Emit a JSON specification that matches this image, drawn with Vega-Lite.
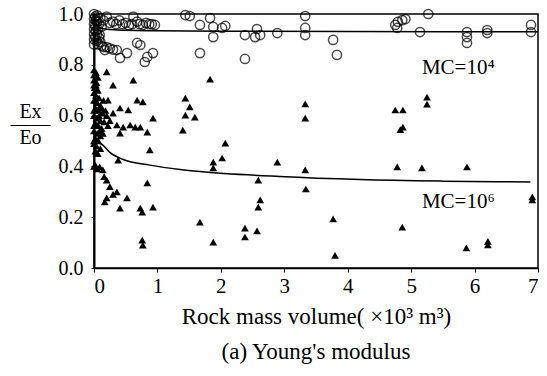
{
  "$schema": "https://vega.github.io/schema/vega-lite/v6.json",
  "width": 444,
  "height": 254,
  "autosize": {"type": "none"},
  "padding": {"left": 94, "top": 14, "right": 9, "bottom": 108},
  "background": "white",
  "config": {
    "view": {"stroke": "black", "strokeWidth": 1.5},
    "font": "Liberation Serif",
    "axis": {"grid": false, "domainColor": "black", "tickColor": "black", "labelColor": "black", "titleColor": "black", "titleFontWeight": "normal"}
  },
  "title": {"text": "(a) Young's modulus", "orient": "bottom", "offset": 13, "fontSize": 23, "font": "Liberation Serif", "fontWeight": "normal", "color": "black"},
  "datasets": {
    "circles": [
      {"x":0.0,"y":1.0},{"x":0.02,"y":0.99},{"x":0.05,"y":0.995},{"x":0.0,"y":0.98},{"x":0.03,"y":0.975},{"x":0.0,"y":0.96},{"x":0.02,"y":0.955},{"x":0.05,"y":0.97},{"x":0.0,"y":0.94},{"x":0.03,"y":0.935},{"x":0.0,"y":0.92},{"x":0.02,"y":0.91},{"x":0.05,"y":0.92},{"x":0.0,"y":0.9},{"x":0.04,"y":0.895},{"x":0.08,"y":0.905},{"x":0.1,"y":0.89},{"x":0.0,"y":0.88},{"x":0.06,"y":0.88},{"x":0.12,"y":0.875},{"x":0.15,"y":0.87},{"x":0.2,"y":0.87},{"x":0.25,"y":0.865},{"x":0.3,"y":0.86},
      {"x":0.09,"y":0.917},{"x":0.17,"y":0.858},{"x":0.36,"y":0.858},{"x":0.41,"y":0.827},{"x":0.52,"y":0.846},{"x":0.68,"y":0.886},{"x":0.73,"y":0.878},{"x":0.80,"y":0.811},{"x":0.84,"y":0.831},{"x":0.93,"y":0.846},
      {"x":0.1,"y":0.985},{"x":0.15,"y":0.975},{"x":0.2,"y":0.99},{"x":0.25,"y":0.965},{"x":0.3,"y":0.97},{"x":0.35,"y":0.96},{"x":0.4,"y":0.975},{"x":0.45,"y":0.96},{"x":0.5,"y":0.965},{"x":0.55,"y":0.955},{"x":0.62,"y":0.99},{"x":0.6,"y":0.96},{"x":0.68,"y":0.97},{"x":0.72,"y":0.96},{"x":0.77,"y":0.957},{"x":0.82,"y":0.965},{"x":0.87,"y":0.96},{"x":0.91,"y":0.96},{"x":0.96,"y":0.957},{"x":0.08,"y":0.96},{"x":0.12,"y":0.95},{"x":0.06,"y":0.94},
      {"x":1.44,"y":0.996},{"x":1.51,"y":0.992},{"x":1.83,"y":0.984},{"x":1.67,"y":0.957},{"x":1.88,"y":0.949},{"x":1.88,"y":0.909},{"x":2.02,"y":0.945},{"x":2.07,"y":0.953},{"x":2.38,"y":0.917},{"x":2.57,"y":0.941},{"x":2.54,"y":0.909},{"x":2.62,"y":0.917},{"x":2.89,"y":0.925},{"x":3.33,"y":0.992},{"x":3.33,"y":0.945},{"x":3.33,"y":0.917},{"x":3.77,"y":0.898},{"x":3.83,"y":0.839},{"x":1.67,"y":0.846},{"x":2.38,"y":0.823},
      {"x":4.75,"y":0.957},{"x":4.79,"y":0.969},{"x":4.86,"y":0.976},{"x":4.91,"y":0.98},{"x":4.78,"y":0.945},{"x":5.27,"y":1.0},{"x":5.14,"y":0.929},{"x":5.88,"y":0.929},{"x":5.88,"y":0.909},{"x":5.88,"y":0.886},{"x":6.2,"y":0.937},{"x":6.2,"y":0.925},{"x":6.89,"y":0.957},{"x":6.89,"y":0.929}
    ],
    "triangles": [
      {"x":0.0,"y":0.78},{"x":0.02,"y":0.76},{"x":0.0,"y":0.74},{"x":0.04,"y":0.73},{"x":0.01,"y":0.71},{"x":0.05,"y":0.70},{"x":0.0,"y":0.69},{"x":0.03,"y":0.68},{"x":0.08,"y":0.67},{"x":0.0,"y":0.66},{"x":0.05,"y":0.65},{"x":0.1,"y":0.64},{"x":0.02,"y":0.63},{"x":0.07,"y":0.62},{"x":0.13,"y":0.61},{"x":0.0,"y":0.60},{"x":0.04,"y":0.59},{"x":0.1,"y":0.58},{"x":0.16,"y":0.575},{"x":0.02,"y":0.57},{"x":0.07,"y":0.56},{"x":0.12,"y":0.55},{"x":0.0,"y":0.54},{"x":0.05,"y":0.53},{"x":0.1,"y":0.52},{"x":0.02,"y":0.51},{"x":0.07,"y":0.50},{"x":0.0,"y":0.49},{"x":0.04,"y":0.48},{"x":0.1,"y":0.47},{"x":0.02,"y":0.46},{"x":0.06,"y":0.45},{"x":0.0,"y":0.62},{"x":0.0,"y":0.56},{"x":0.0,"y":0.5},{"x":0.03,"y":0.77},{"x":0.06,"y":0.75},{"x":0.03,"y":0.72},{"x":0.15,"y":0.66},{"x":0.18,"y":0.62},{"x":0.2,"y":0.6},{"x":0.22,"y":0.56},{"x":0.25,"y":0.58},{"x":0.14,"y":0.53},{"x":0.08,"y":0.6},{"x":0.12,"y":0.63},{"x":0.03,"y":0.66},{"x":0.06,"y":0.7},{"x":0.09,"y":0.54},{"x":0.0,"y":0.72},{"x":0.0,"y":0.76},
      {"x":0.2,"y":0.772},{"x":0.3,"y":0.72},{"x":0.62,"y":0.74},{"x":0.22,"y":0.661},{"x":0.41,"y":0.63},{"x":0.68,"y":0.661},{"x":0.77,"y":0.654},{"x":0.54,"y":0.622},{"x":0.3,"y":0.61},{"x":0.93,"y":0.59},{"x":0.36,"y":0.563},{"x":0.46,"y":0.555},{"x":0.57,"y":0.563},{"x":0.65,"y":0.555},{"x":0.73,"y":0.555},{"x":0.84,"y":0.535},{"x":0.41,"y":0.531},{"x":0.88,"y":0.465},{"x":0.38,"y":0.425},
      {"x":1.44,"y":0.669},{"x":1.51,"y":0.634},{"x":1.44,"y":0.602},{"x":1.59,"y":0.594},{"x":1.40,"y":0.543},{"x":1.83,"y":0.744},{"x":2.07,"y":0.492},{"x":2.02,"y":0.433},{"x":1.88,"y":0.417},{"x":1.88,"y":0.394},{"x":2.59,"y":0.346},{"x":2.89,"y":0.417},{"x":3.33,"y":0.386},{"x":3.34,"y":0.311},{"x":2.62,"y":0.268},{"x":2.59,"y":0.24},{"x":1.67,"y":0.181},{"x":2.38,"y":0.157},{"x":2.38,"y":0.122},{"x":2.57,"y":0.146},{"x":1.88,"y":0.102},{"x":3.77,"y":0.193},{"x":3.80,"y":0.05},{"x":3.33,"y":0.646},{"x":3.33,"y":0.59},
      {"x":5.25,"y":0.673},{"x":5.25,"y":0.645},{"x":4.75,"y":0.622},{"x":4.87,"y":0.622},{"x":4.87,"y":0.555},{"x":4.83,"y":0.545},{"x":4.78,"y":0.398},{"x":5.17,"y":0.394},{"x":5.88,"y":0.398},{"x":6.91,"y":0.268},{"x":6.91,"y":0.28},{"x":4.86,"y":0.161},{"x":5.87,"y":0.079},{"x":6.21,"y":0.091},{"x":6.21,"y":0.105},
      {"x":0.09,"y":0.398},{"x":0.14,"y":0.386},{"x":0.05,"y":0.39},{"x":0.2,"y":0.346},{"x":0.16,"y":0.36},{"x":0.25,"y":0.32},{"x":0.36,"y":0.30},{"x":0.3,"y":0.29},{"x":0.2,"y":0.276},{"x":0.17,"y":0.26},{"x":0.52,"y":0.276},{"x":0.41,"y":0.236},{"x":0.73,"y":0.236},{"x":0.76,"y":0.22},{"x":0.93,"y":0.24},{"x":0.84,"y":0.335},{"x":0.76,"y":0.11},{"x":0.77,"y":0.09},{"x":0.02,"y":0.405},{"x":0.0,"y":0.4}
    ],
    "curves": [
      {"mc":"1e4","x":0.0,"y":1.0},{"mc":"1e4","x":0.02,"y":0.975},{"mc":"1e4","x":0.05,"y":0.955},{"mc":"1e4","x":0.1,"y":0.945},{"mc":"1e4","x":0.2,"y":0.94},{"mc":"1e4","x":0.5,"y":0.936},{"mc":"1e4","x":1.0,"y":0.934},{"mc":"1e4","x":2.0,"y":0.932},{"mc":"1e4","x":4.0,"y":0.931},{"mc":"1e4","x":7.0,"y":0.93},
      {"mc":"1e6","x":0.0,"y":0.5},{"mc":"1e6","x":0.05,"y":0.496},{"mc":"1e6","x":0.14,"y":0.484},{"mc":"1e6","x":0.25,"y":0.455},{"mc":"1e6","x":0.46,"y":0.427},{"mc":"1e6","x":0.88,"y":0.405},{"mc":"1e6","x":1.36,"y":0.388},{"mc":"1e6","x":1.67,"y":0.38},{"mc":"1e6","x":2.93,"y":0.36},{"mc":"1e6","x":4.2,"y":0.348},{"mc":"1e6","x":5.5,"y":0.342},{"mc":"1e6","x":6.88,"y":0.339}
    ],
    "labels": [
      {"x":5.17,"y":0.787,"label":"MC=10⁴"},
      {"x":5.17,"y":0.26,"label":"MC=10⁶"}
    ]
  },
  "layer": [
    {
      "data": {"name": "curves"},
      "mark": {"type": "line", "color": "black", "strokeWidth": 1.5, "interpolate": "monotone"},
      "encoding": {
        "x": {"field": "x", "type": "quantitative", "scale": {"domain": [0, 7], "nice": false},
          "axis": {"values": [0,1,2,3,4,5,6,7], "format": "d", "title": "Rock mass volume( ×10³ m³)", "labelFont": "Liberation Serif", "titleFont": "Liberation Serif", "labelFontSize": 21, "titleFontSize": 23, "tickSize": 4, "labelPadding": 3, "titlePadding": 9, "domainWidth": 1.5}},
        "y": {"field": "y", "type": "quantitative", "scale": {"domain": [0, 1], "nice": false},
          "axis": {"values": [0,0.1,0.2,0.3,0.4,0.5,0.6,0.7,0.8,0.9,1.0], "format": ".1f", "labelFont": "Liberation Serif", "titleFont": "Liberation Serif", "labelFontSize": 20, "tickSize": 3, "labelPadding": 8, "domainWidth": 2,
            "title": ["Ex", "——", "Eo"], "titleFontSize": 20, "titleAngle": 0, "titleAlign": "center", "titleBaseline": "middle", "titleX": -64, "titleY": 97, "titleLineHeight": 13}},
        "detail": {"field": "mc"}
      }
    },
    {
      "data": {"name": "circles"},
      "mark": {"type": "point", "shape": "circle", "filled": false, "stroke": "black", "strokeWidth": 1.5, "size": 85},
      "encoding": {
        "x": {"field": "x", "type": "quantitative"},
        "y": {"field": "y", "type": "quantitative"}
      }
    },
    {
      "data": {"name": "triangles"},
      "mark": {"type": "point", "shape": "triangle-up", "filled": true, "fill": "black", "opacity": 1, "size": 60},
      "encoding": {
        "x": {"field": "x", "type": "quantitative"},
        "y": {"field": "y", "type": "quantitative"}
      }
    },
    {
      "data": {"name": "labels"},
      "mark": {"type": "text", "align": "left", "baseline": "middle", "fontSize": 21, "font": "Liberation Serif", "color": "black"},
      "encoding": {
        "x": {"field": "x", "type": "quantitative"},
        "y": {"field": "y", "type": "quantitative"},
        "text": {"field": "label"}
      }
    }
  ]
}
